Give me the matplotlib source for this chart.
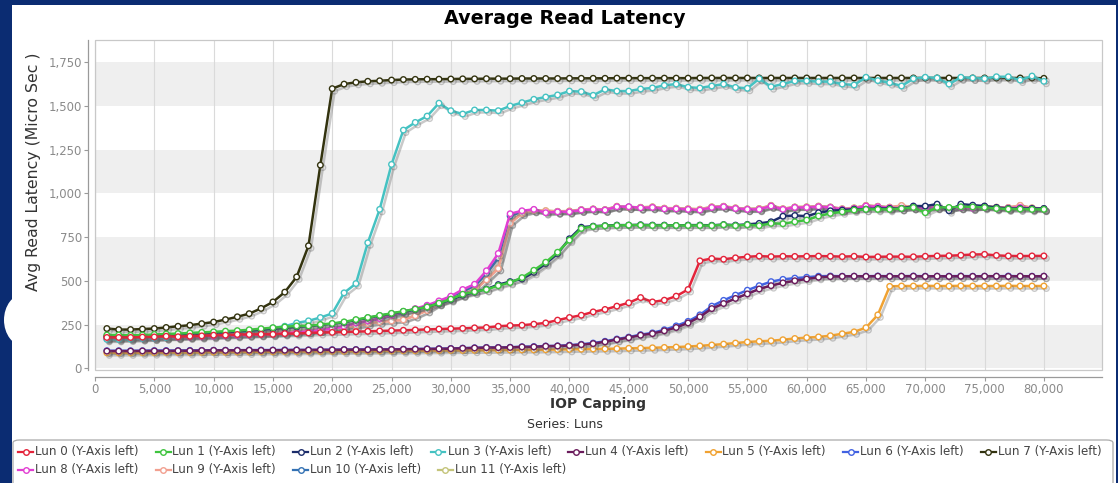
import matplotlib
matplotlib.use('Agg')
import matplotlib.pyplot as plt
from matplotlib.patches import Rectangle, FancyBboxPatch, Ellipse
from matplotlib.lines import Line2D
import matplotlib.patheffects as pe
from matplotlib.ticker import FuncFormatter

# ---------------- data ----------------
iop_capping = [1000, 2000, 3000, 4000, 5000, 6000, 7000, 8000, 9000, 10000,
               11000, 12000, 13000, 14000, 15000, 16000, 17000, 18000, 19000, 20000,
               21000, 22000, 23000, 24000, 25000, 26000, 27000, 28000, 29000, 30000,
               31000, 32000, 33000, 34000, 35000, 36000, 37000, 38000, 39000, 40000,
               41000, 42000, 43000, 44000, 45000, 46000, 47000, 48000, 49000, 50000,
               51000, 52000, 53000, 54000, 55000, 56000, 57000, 58000, 59000, 60000,
               61000, 62000, 63000, 64000, 65000, 66000, 67000, 68000, 69000, 70000,
               71000, 72000, 73000, 74000, 75000, 76000, 77000, 78000, 79000, 80000]

lun0 = [176,176,176,178,179,183,180,183,185,189,
        189,193,193,194,194,198,198,202,204,205,
        207,209,211,213,215,217,219,222,224,226,
        228,231,233,240,244,246,252,259,275,290,
        303,322,336,355,374,404,379,389,412,450,
        614,627,623,631,637,641,638,640,639,640,
        641,640,638,640,636,637,638,638,637,640,
        642,643,646,650,651,645,642,641,642,642]
lun1 = [190,190,188,190,193,196,198,202,205,208,
        212,215,220,226,232,236,242,242,250,256,
        265,278,290,302,314,326,338,350,372,395,
        423,437,450,472,490,518,560,606,663,732,
        799,810,814,816,818,818,816,816,816,816,
        816,815,820,815,820,815,828,826,837,847,
        870,885,894,904,908,908,908,913,919,889,
        919,919,923,922,919,913,910,910,908,908]
lun2 = [182,183,182,184,186,189,192,195,198,202,
        206,210,214,219,225,230,236,240,247,254,
        262,275,288,300,312,324,336,350,370,392,
        418,435,452,478,495,510,548,598,655,740,
        806,812,815,818,818,820,818,818,816,818,
        818,817,821,818,822,828,837,869,873,869,
        889,900,904,909,909,913,913,913,927,927,
        938,900,938,932,927,919,913,913,913,913]
lun3 = [165,165,167,170,172,175,180,185,190,195,
        200,207,213,220,230,240,259,271,290,313,
        431,484,717,908,1165,1361,1405,1441,1515,1472,
        1453,1476,1476,1472,1499,1518,1537,1550,1562,1584,
        1581,1560,1594,1584,1584,1596,1602,1617,1624,1606,
        1602,1613,1624,1605,1600,1655,1609,1624,1642,1642,
        1638,1638,1624,1619,1663,1644,1632,1613,1655,1663,
        1659,1624,1663,1659,1655,1666,1666,1647,1670,1640]
lun4 = [98,98,98,99,99,99,100,100,101,102,
        102,102,103,102,103,103,104,104,105,105,
        106,106,106,107,107,108,109,110,111,112,
        114,116,118,118,119,122,122,126,127,130,
        135,141,151,164,175,189,198,214,233,259,
        294,341,370,399,425,453,472,488,500,510,
        520,524,525,526,525,526,525,526,526,525,
        526,525,526,525,526,526,525,526,525,526]
lun5 = [88,88,88,89,89,90,90,90,91,92,
        92,93,93,94,94,95,95,96,96,97,
        97,98,98,99,99,100,100,101,101,102,
        102,103,103,104,104,105,105,106,107,108,
        109,110,111,112,114,115,117,119,121,124,
        128,133,138,144,150,154,157,163,170,175,
        179,186,197,208,232,305,468,470,470,471,
        470,470,471,470,470,470,471,470,470,470]
lun6 = [100,100,100,100,101,101,101,102,102,103,
        103,103,104,104,104,105,105,105,106,106,
        107,107,108,108,108,109,110,111,112,113,
        115,117,119,119,120,123,124,127,128,132,
        137,144,154,167,178,192,202,220,242,268,
        305,355,388,418,446,472,495,508,515,520,
        526,527,526,526,526,527,526,526,527,526,
        526,526,527,526,526,526,527,526,526,526]
lun7 = [227,221,221,224,227,233,240,246,255,264,
        278,294,312,342,379,435,522,700,1161,1598,
        1624,1634,1640,1643,1647,1650,1651,1652,1652,1653,
        1654,1654,1655,1655,1655,1656,1656,1656,1656,1657,
        1657,1657,1657,1658,1658,1658,1658,1658,1658,1658,
        1659,1659,1659,1659,1659,1659,1659,1659,1659,1659,
        1659,1659,1659,1659,1659,1659,1659,1659,1659,1659,
        1659,1659,1659,1659,1659,1659,1659,1659,1659,1657]
lun8 = [168,168,170,170,172,175,176,178,180,182,
        185,187,190,193,196,200,205,210,218,226,
        238,259,271,284,303,322,341,360,385,412,
        450,480,557,656,883,900,908,889,894,894,
        904,908,904,923,923,917,919,911,911,908,
        904,919,923,913,908,908,927,908,919,919,
        923,919,908,913,927,923,917,915,919,913,
        921,912,919,915,923,917,915,919,913,910]
lun9 = [175,175,176,177,178,180,182,184,186,188,
        190,192,195,198,201,204,208,212,218,225,
        232,240,255,265,270,276,300,330,372,398,
        420,445,505,570,828,885,902,900,896,898,
        906,910,906,925,920,919,922,914,914,911,
        908,922,925,916,910,912,930,911,921,922,
        926,921,911,916,930,925,920,930,921,916,
        923,915,921,918,925,920,918,931,916,912]
lun10 = [172,172,173,174,175,177,179,181,183,185,
         187,190,193,196,199,203,207,212,219,227,
         237,255,268,281,300,318,337,356,380,408,
         440,470,540,630,870,895,905,892,895,896,
         905,909,905,923,922,918,920,912,912,909,
         906,920,924,914,909,910,928,909,920,920,
         924,920,909,914,928,924,918,916,920,914,
         922,913,920,916,924,918,916,920,914,911]
lun11 = [178,178,179,180,181,183,185,187,189,191,
         193,196,199,202,205,208,212,216,222,228,
         235,243,256,266,272,279,302,332,374,400,
         422,448,508,572,832,887,903,901,897,899,
         907,911,907,926,921,920,923,915,915,912,
         909,923,926,917,911,913,931,912,922,923,
         927,922,912,917,931,926,921,929,922,917,
         924,916,922,919,926,921,919,930,917,913]

series_names = ["Lun 0", "Lun 1", "Lun 2", "Lun 3", "Lun 4", "Lun 5",
                "Lun 6", "Lun 7", "Lun 8", "Lun 9", "Lun 10", "Lun 11"]
series_values = [lun0, lun1, lun2, lun3, lun4, lun5, lun6, lun7, lun8, lun9, lun10, lun11]
series_colors = ["#e4233a", "#3fc43f", "#1c2d6b", "#45c2c2", "#6b1c5c", "#f0a232",
                 "#4262e2", "#33330f", "#e23ed2", "#f2a090", "#3472b4", "#c4c47a"]

y_ticks = [0, 250, 500, 750, 1000, 1250, 1500, 1750]
x_ticks = [0, 5000, 10000, 15000, 20000, 25000, 30000, 35000, 40000,
           45000, 50000, 55000, 60000, 65000, 70000, 75000, 80000]

# ---------------- figure ----------------
W, H = 1118, 483
fig = plt.figure(figsize=(W / 100, H / 100), dpi=100, facecolor='#0b2c72')

def fx(px):
    return px / W

def fy(py):
    return 1 - py / H

# white panel and the stray white blob on the left
fig.add_artist(Rectangle((fx(12), 0), fx(1116) - fx(12), fy(5), transform=fig.transFigure,
                         facecolor='white', edgecolor='none', zorder=0))
fig.add_artist(Ellipse((fx(24), fy(320)), fx(40) - fx(0), fy(0) - fy(52), transform=fig.transFigure,
                       facecolor='white', edgecolor='none', zorder=0))

ax = fig.add_axes([fx(95), fy(370), fx(1102) - fx(95), fy(40) - fy(370)])
ax.set_facecolor('white')
ax.set_xlim(0, 84900)
ax.set_ylim(-10, 1876)

# alternating bands
for i, lo in enumerate(y_ticks):
    if i % 2 == 0:
        ax.axhspan(lo, lo + 250, color='#efefef', zorder=0, lw=0)

for xv in x_ticks:
    ax.axvline(xv, color='#dadada', lw=0.8, zorder=1)

# plot outline
ax.add_patch(Rectangle((0, 0), 1, 1, transform=ax.transAxes, fill=False,
                       edgecolor='#c8c8c8', lw=0.9, zorder=50, clip_on=False))

shadow = [pe.SimpleLineShadow(offset=(1.8, -1.8), shadow_color='#666666', alpha=0.35), pe.Normal()]
n = len(series_names)
for i in range(n):
    ax.plot(iop_capping, series_values[i], color=series_colors[i], lw=1.8,
            marker='o', ms=4.0, mfc='white', mec=series_colors[i], mew=1.0,
            zorder=10 + (n - i), path_effects=shadow)

for side in ('top', 'right'):
    ax.spines[side].set_visible(False)
for side in ('left', 'bottom'):
    ax.spines[side].set_position(('outward', 5))
    ax.spines[side].set_color('#9a9a9a')
    ax.spines[side].set_linewidth(0.9)

ax.set_xticks(x_ticks)
ax.set_yticks(y_ticks)
fmt = FuncFormatter(lambda v, p: f"{v:,.0f}")
ax.xaxis.set_major_formatter(fmt)
ax.yaxis.set_major_formatter(fmt)
ax.tick_params(axis='both', colors='#9a9a9a', labelcolor='#8a8a8a', labelsize=8.4,
               length=3, width=0.8, direction='out', pad=1.5)

# texts
fig.text(fx(565), fy(18), "Average Read Latency", ha='center', va='center',
         fontsize=13.8, fontweight='bold', color='black')
fig.text(fx(34), fy(172), "Avg Read Latency (Micro Sec )", ha='center', va='center',
         rotation=90, fontsize=11.3, color='#333333')
fig.text(fx(598), fy(404), "IOP Capping", ha='center', va='center',
         fontsize=10, fontweight='bold', color='#333333')
fig.text(fx(565), fy(425), "Series: Luns", ha='center', va='center',
         fontsize=9, color='#333333')

# legend box
fig.add_artist(FancyBboxPatch((fx(13), fy(490)), fx(1113) - fx(13), fy(440) - fy(490),
                              boxstyle='round,pad=0,rounding_size=0.006', transform=fig.transFigure,
                              facecolor='white', edgecolor='#aaaaaa', lw=0.9, zorder=1))

row1_y, row2_y = 452, 470
step = 137.5
positions = [(18 + step * k, row1_y) for k in range(8)] + \
            [(18, row2_y), (18 + step, row2_y), (18 + 2 * step, row2_y), (25 + 3 * step, row2_y)]
for i in range(n):
    x0, yy = positions[i]
    c = series_colors[i]
    fig.add_artist(Line2D([fx(x0), fx(x0 + 15)], [fy(yy), fy(yy)], transform=fig.transFigure,
                          color=c, lw=1.6, zorder=3))
    fig.add_artist(Line2D([fx(x0 + 7.5)], [fy(yy)], transform=fig.transFigure, marker='o',
                          ms=4.0, mfc='white', mec=c, mew=1.0, lw=0, zorder=4))
    fig.text(fx(x0 + 17), fy(yy), f"{series_names[i]} (Y-Axis left)", ha='left', va='center',
             fontsize=8.6, color='#444444', zorder=5)

fig.savefig('out.png', dpi=100, facecolor=fig.get_facecolor())
